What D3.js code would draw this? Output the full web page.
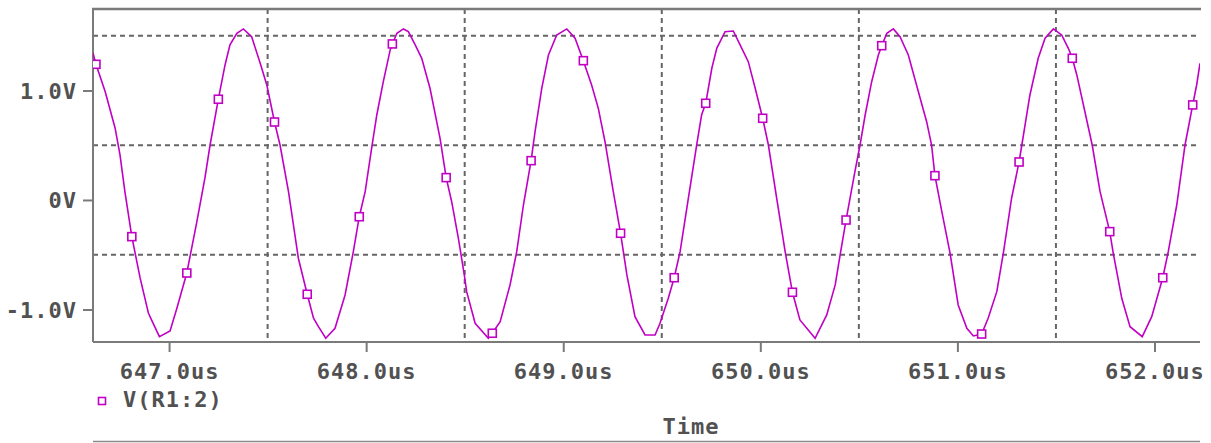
<!DOCTYPE html>
<html>
<head>
<meta charset="utf-8">
<script src="https://cdn.jsdelivr.net/npm/d3@7"></script>
<style>
  body { margin: 0; background: #fff; }
  svg { display: block; }
  .lbl { font-family: "DejaVu Sans Mono", monospace; font-weight: bold; font-size: 22px; letter-spacing: 1px; fill: #515151; }
</style>
</head>
<body>
<script>
// trace V(R1:2), time in us, value in volts
const timeUs = [
  646.614, 646.629, 646.676, 646.726, 646.751, 646.776, 646.811, 646.853, 646.895, 646.918,
  646.951, 647.005, 647.040, 647.090, 647.141, 647.182, 647.208, 647.250, 647.284, 647.309,
  647.344, 647.377, 647.419, 647.462, 647.496, 647.535, 647.563, 647.606, 647.656, 647.701,
  647.733, 647.758, 647.795, 647.842, 647.893, 647.935, 647.965, 647.995, 648.029, 648.054,
  648.087, 648.122, 648.133, 648.156, 648.189, 648.214, 648.249, 648.282, 648.324, 648.375,
  648.406, 648.434, 648.468, 648.498, 648.510, 648.553, 648.620, 648.640, 648.680, 648.730,
  648.764, 648.798, 648.837, 648.857, 648.891, 648.925, 648.967, 649.018, 649.060, 649.102,
  649.144, 649.178, 649.212, 649.254, 649.291, 649.323, 649.364, 649.415, 649.466, 649.491,
  649.533, 649.563, 649.593, 649.635, 649.677, 649.702, 649.723, 649.754, 649.779, 649.821,
  649.863, 649.906, 649.939, 649.974, 650.012, 650.041, 650.083, 650.126, 650.163, 650.201,
  650.278, 650.337, 650.380, 650.405, 650.435, 650.480, 650.506, 650.532, 650.565, 650.599,
  650.616, 650.642, 650.675, 650.709, 650.751, 650.802, 650.844, 650.869, 650.886, 650.921,
  650.963, 651.004, 651.048, 651.081, 651.123, 651.156, 651.200, 651.233, 651.275, 651.313,
  651.327, 651.368, 651.410, 651.445, 651.487, 651.529, 651.563, 651.583, 651.606, 651.647,
  651.684, 651.724, 651.773, 651.791, 651.834, 651.876, 651.938, 651.986, 652.042, 652.070,
  652.113, 652.155, 652.194, 652.214, 652.231
];
const volts = [
  1.342, 1.239, 0.989, 0.658, 0.411, 0.073, -0.335, -0.712, -1.032, -1.123,
  -1.248, -1.196, -0.986, -0.667, -0.198, 0.201, 0.502, 0.920, 1.233, 1.416,
  1.522, 1.562, 1.491, 1.251, 1.050, 0.712, 0.502, 0.076, -0.532, -0.861,
  -1.080, -1.157, -1.263, -1.172, -0.868, -0.472, -0.153, 0.076, 0.487, 0.776,
  1.080, 1.370, 1.425, 1.522, 1.562, 1.537, 1.416, 1.294, 1.020, 0.563,
  0.204, -0.016, -0.350, -0.685, -0.837, -1.126, -1.263, -1.217, -1.111, -0.776,
  -0.472, -0.046, 0.359, 0.624, 1.020, 1.324, 1.507, 1.562, 1.477, 1.272,
  1.050, 0.837, 0.532, 0.076, -0.304, -0.685, -1.066, -1.233, -1.233, -1.126,
  -0.898, -0.710, -0.472, 0.016, 0.502, 0.776, 0.883, 1.203, 1.385, 1.537,
  1.543, 1.385, 1.263, 1.020, 0.746, 0.502, 0.016, -0.472, -0.843, -1.096,
  -1.263, -1.050, -0.776, -0.502, -0.183, 0.258, 0.502, 0.776, 1.080, 1.324,
  1.409, 1.522, 1.562, 1.491, 1.324, 0.989, 0.715, 0.502, 0.222, -0.107,
  -0.487, -0.959, -1.172, -1.242, -1.224, -1.080, -0.837, -0.487, 0.016, 0.347,
  0.502, 0.959, 1.294, 1.477, 1.562, 1.507, 1.385, 1.294, 1.142, 0.806,
  0.502, 0.076, -0.289, -0.487, -0.898, -1.157, -1.248, -1.066, -0.710, -0.472,
  -0.046, 0.502, 0.868, 1.050, 1.248
];

// symbol markers along the trace
const markerTimeUs = [
  646.629, 646.811, 647.090, 647.250, 647.535, 647.701, 647.965, 648.133, 648.406, 648.640,
  648.837, 649.102, 649.291, 649.563, 649.723, 650.012, 650.163, 650.435, 650.616, 650.886,
  651.123, 651.313, 651.583, 651.773, 652.042, 652.194
];
const markerVolts = [
  1.239, -0.335, -0.667, 0.920, 0.712, -0.861, -0.153, 1.425, 0.204, -1.217,
  0.359, 1.272, -0.304, -0.710, 0.883, 0.746, -0.843, -0.183, 1.409, 0.222,
  -1.224, 0.347, 1.294, -0.289, -0.710, 0.868
];

const xTicks = [647, 648, 649, 650, 651, 652];
const xGrid = [647.5, 648.5, 649.5, 650.5, 651.5];
const yTicks = [-1, 0, 1];
const yTickLabels = ["-1.0V", "0V", "1.0V"];
const yGrid = [-0.5, 0.5, 1.5];
const traceName = "V(R1:2)";
const xTitle = "Time";

const traceColor = "#c000c4";
const axisColor = "#7a7a7a";
const gridColor = "#666";

var svg = d3.select("body").append("svg")
    .attr("width", 1211).attr("height", 443);

// plot box (names avoid window.top)
var pLeft = 93, pRight = 1200, pTop = 9, pBottom = 342;

var x = d3.scaleLinear().domain([646.614, 652.231]).range([pLeft, pRight]);
var y = d3.scaleLinear().domain([-1.297, 1.744]).range([pBottom, pTop]);

svg.append("defs").append("clipPath").attr("id", "plotClip")
  .append("rect").attr("x", pLeft).attr("y", pTop)
  .attr("width", pRight - pLeft).attr("height", pBottom - pTop);

// dashed grid
svg.append("g").selectAll("line").data(yGrid).enter().append("line")
    .attr("x1", pLeft).attr("x2", pRight)
    .attr("y1", d => y(d)).attr("y2", d => y(d))
    .attr("stroke", gridColor).attr("stroke-width", 2).attr("stroke-dasharray", "5,4");
svg.append("g").selectAll("line").data(xGrid).enter().append("line")
    .attr("x1", d => x(d)).attr("x2", d => x(d))
    .attr("y1", pTop).attr("y2", pBottom)
    .attr("stroke", gridColor).attr("stroke-width", 2).attr("stroke-dasharray", "5,4");

// axes: left, bottom, plus the top frame line
var yAxis = d3.axisLeft(y).tickValues(yTicks).tickSize(10).tickFormat((d, i) => yTickLabels[i]);
var gy = svg.append("g").attr("transform", "translate(" + pLeft + ",0)").call(yAxis);
var xAxis = d3.axisBottom(x).tickValues(xTicks).tickSize(10).tickFormat(d => d3.format(".1f")(d) + "us");
var gx = svg.append("g").attr("transform", "translate(0," + pBottom + ")").call(xAxis);

[gx, gy].forEach(g => {
    g.select(".domain").attr("stroke", axisColor).attr("stroke-width", 2);
    g.selectAll(".tick line").attr("stroke", axisColor).attr("stroke-width", 2);
    g.selectAll(".tick text").attr("class", "lbl").attr("font-size", null).attr("font-family", null).attr("fill", null);
});
gy.select(".domain").attr("d", "M0," + pTop + "V" + pBottom);
gx.select(".domain").attr("d", "M" + pLeft + ",0H" + pRight);
gy.selectAll(".tick text").attr("x", -16).attr("dy", "0.36em");
gx.selectAll(".tick text").attr("y", 37).attr("dy", 0);

svg.append("line")
    .attr("x1", pLeft - 1).attr("x2", pRight + 1).attr("y1", pTop).attr("y2", pTop)
    .attr("stroke", axisColor).attr("stroke-width", 2.5);

// trace
var line = d3.line()
    .x(i => x(timeUs[i]))
    .y(i => y(volts[i]))
    .curve(d3.curveLinear);

var plot = svg.append("g").attr("clip-path", "url(#plotClip)");
plot.append("path")
    .attr("d", line(d3.range(timeUs.length)))
    .attr("fill", "none")
    .attr("stroke", traceColor)
    .attr("stroke-width", 1.6);

plot.selectAll("rect.mk").data(d3.range(markerTimeUs.length)).enter().append("rect")
    .attr("class", "mk")
    .attr("x", i => x(markerTimeUs[i]) - 4)
    .attr("y", i => y(markerVolts[i]) - 4)
    .attr("width", 8).attr("height", 8)
    .attr("fill", "#fff")
    .attr("stroke", traceColor)
    .attr("stroke-width", 1.6);

// legend
svg.append("rect")
    .attr("x", 98.5).attr("y", 397.5).attr("width", 7).attr("height", 7)
    .attr("fill", "#fff").attr("stroke", traceColor).attr("stroke-width", 1.6);
svg.append("text").attr("class", "lbl")
    .attr("x", 123).attr("y", 407)
    .text(traceName);

// x title and bottom rule
svg.append("text").attr("class", "lbl")
    .attr("x", 691).attr("y", 434).attr("text-anchor", "middle")
    .text(xTitle);
svg.append("line")
    .attr("x1", 93).attr("x2", 1200).attr("y1", 441.5).attr("y2", 441.5)
    .attr("stroke", "#8a8a8a").attr("stroke-width", 1.5);
</script>
</body>
</html>
